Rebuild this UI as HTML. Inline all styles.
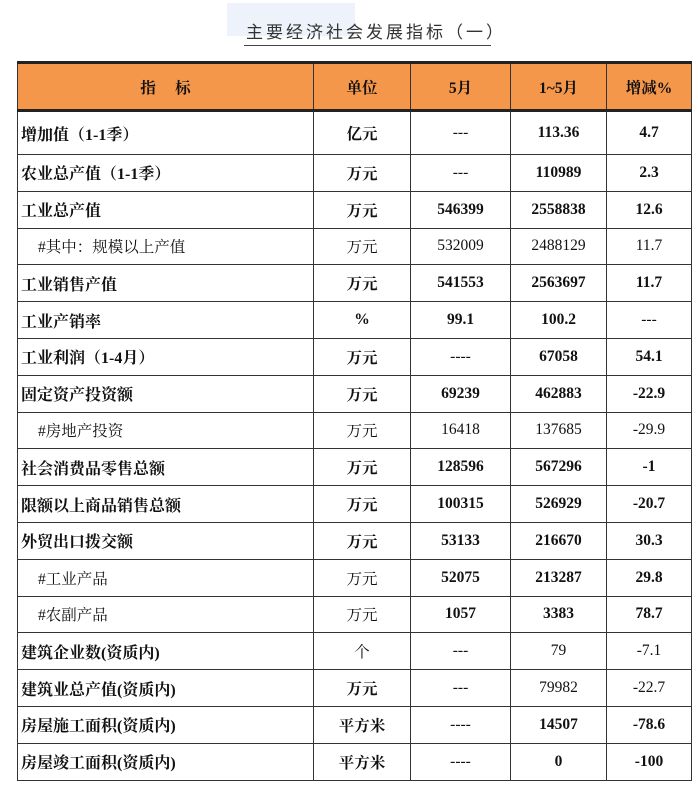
<!DOCTYPE html>
<html><head><meta charset="utf-8"><style>
body{margin:0;width:698px;height:789px;background:#fff;position:relative;overflow:hidden;font-family:"Liberation Serif","Noto Serif CJK SC",serif;}
.tbox{position:absolute;left:227px;top:3px;width:128px;height:33px;background:#eef3fb;}
.title{position:absolute;left:246px;top:18px;font-family:"Liberation Sans","Noto Sans CJK SC",sans-serif;font-size:17px;color:#333;letter-spacing:3px;white-space:nowrap}
.ul{position:absolute;left:244px;top:45px;width:247px;height:1px;background:#444}
table{position:absolute;left:17px;top:61px;border-collapse:collapse;width:674px;table-layout:fixed}
td{border:1px solid #333;height:35.8px;padding:0;text-align:center;font-size:15.5px;color:#111}
tr.h td{background:#f5974a;height:45px;font-weight:bold;border-top:3px solid #222;border-bottom:3px solid #222}
tr.r1 td{height:42px}
td.n{text-align:left;padding-left:3px;font-weight:bold;font-size:16px}
td.s{text-align:left;padding-left:20px;font-weight:normal}
.b{font-weight:bold}
</style></head><body>
<div class="tbox"></div>
<div class="title">主要经济社会发展指标（一）</div>
<div class="ul"></div>
<table>
<colgroup><col style="width:296px"><col style="width:97px"><col style="width:100px"><col style="width:96px"><col style="width:85px"></colgroup>
<tr class="h"><td>指&nbsp;&nbsp;&nbsp;&nbsp;&nbsp;标</td><td>单位</td><td>5月</td><td>1~5月</td><td>增减%</td></tr>
<tr class="r1"><td class="n">增加值（1-1季）</td><td class="b">亿元</td><td>---</td><td class="b">113.36</td><td class="b">4.7</td></tr>
<tr><td class="n">农业总产值（1-1季）</td><td class="b">万元</td><td>---</td><td class="b">110989</td><td class="b">2.3</td></tr>
<tr><td class="n">工业总产值</td><td class="b">万元</td><td class="b">546399</td><td class="b">2558838</td><td class="b">12.6</td></tr>
<tr><td class="s">#其中：规模以上产值</td><td>万元</td><td>532009</td><td>2488129</td><td>11.7</td></tr>
<tr><td class="n">工业销售产值</td><td class="b">万元</td><td class="b">541553</td><td class="b">2563697</td><td class="b">11.7</td></tr>
<tr><td class="n">工业产销率</td><td class="b">%</td><td class="b">99.1</td><td class="b">100.2</td><td>---</td></tr>
<tr><td class="n">工业利润（1-4月）</td><td class="b">万元</td><td>----</td><td class="b">67058</td><td class="b">54.1</td></tr>
<tr><td class="n">固定资产投资额</td><td class="b">万元</td><td class="b">69239</td><td class="b">462883</td><td class="b">-22.9</td></tr>
<tr><td class="s">#房地产投资</td><td>万元</td><td>16418</td><td>137685</td><td>-29.9</td></tr>
<tr><td class="n">社会消费品零售总额</td><td class="b">万元</td><td class="b">128596</td><td class="b">567296</td><td class="b">-1</td></tr>
<tr><td class="n">限额以上商品销售总额</td><td class="b">万元</td><td class="b">100315</td><td class="b">526929</td><td class="b">-20.7</td></tr>
<tr><td class="n">外贸出口拨交额</td><td class="b">万元</td><td class="b">53133</td><td class="b">216670</td><td class="b">30.3</td></tr>
<tr><td class="s">#工业产品</td><td>万元</td><td class="b">52075</td><td class="b">213287</td><td class="b">29.8</td></tr>
<tr><td class="s">#农副产品</td><td>万元</td><td class="b">1057</td><td class="b">3383</td><td class="b">78.7</td></tr>
<tr><td class="n">建筑企业数(资质内)</td><td>个</td><td>---</td><td>79</td><td>-7.1</td></tr>
<tr><td class="n">建筑业总产值(资质内)</td><td class="b">万元</td><td>---</td><td>79982</td><td>-22.7</td></tr>
<tr><td class="n">房屋施工面积(资质内)</td><td class="b">平方米</td><td>----</td><td class="b">14507</td><td class="b">-78.6</td></tr>
<tr><td class="n">房屋竣工面积(资质内)</td><td class="b">平方米</td><td>----</td><td class="b">0</td><td class="b">-100</td></tr>
</table>
</body></html>
